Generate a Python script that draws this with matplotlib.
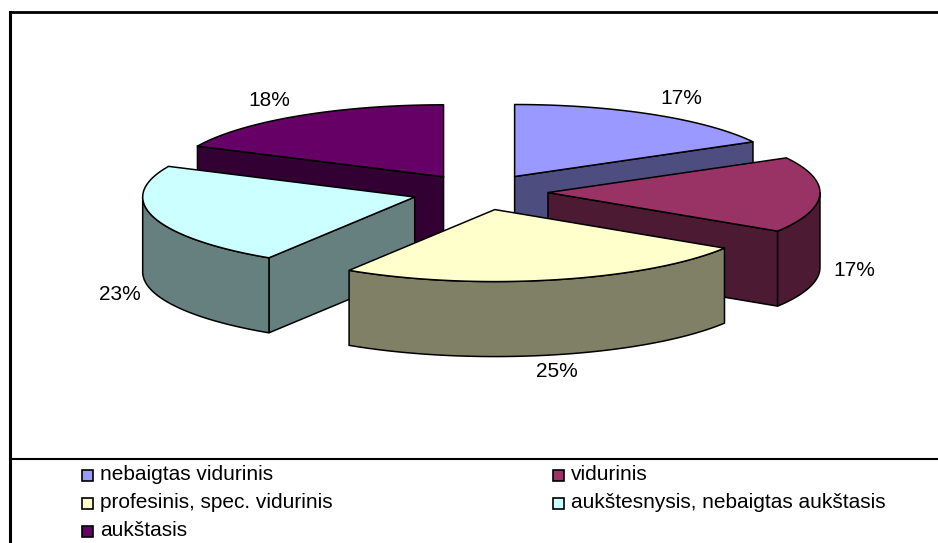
import numpy as np
import matplotlib
matplotlib.use('Agg')
import matplotlib.pyplot as plt
from matplotlib.patches import Polygon, Rectangle
from matplotlib.lines import Line2D

plt.rcParams['font.family'] = ['Liberation Sans', 'DejaVu Sans']

# ---- data ----
categories = ['nebaigtas vidurinis', 'vidurinis', 'profesinis, spec. vidurinis',
              'aukštesnysis, nebaigtas aukštasis', 'aukštasis']
values = [17, 17, 25, 23, 18]
pct_labels = ['17%', '17%', '25%', '23%', '18%']
top_colors = ['#9999FF', '#993366', '#FFFFCC', '#CCFFFF', '#660066']
side_colors = ['#4D4D80', '#4D1A33', '#808066', '#668080', '#330033']

# ---- geometry (pixel space) ----
W, H = 938, 543
CX, CY = 480, 192
RX, RY = 272, 72
DEPTH = 75
EXPL = 0.25
FS = 15

fig = plt.figure(figsize=(W / 100, H / 100), dpi=100)
ax = fig.add_axes([0, 0, 1, 1])
ax.set_xlim(0, W)
ax.set_ylim(H, 0)
ax.axis('off')

fracs = np.array(values, dtype=float) / np.sum(values)
bounds = np.concatenate([[0.0], np.cumsum(fracs)]) * 360.0


def rim(ox, oy, th):
    r = np.radians(th)
    return ox + RX * np.sin(r), oy - RY * np.cos(r)


slices = []
for i in range(len(values)):
    a, b = bounds[i], bounds[i + 1]
    m = np.radians((a + b) / 2)
    ox = CX + EXPL * RX * np.sin(m)
    oy = CY - EXPL * RY * np.cos(m)
    slices.append((oy, i, a, b, ox))

slices.sort()
z = 1
lw = 1.1
for oy, i, a, b, ox in slices:
    sc = side_colors[i]
    # radial faces
    if np.sin(np.radians(b)) > 1e-6:
        x, y = rim(ox, oy, b)
        ax.add_patch(Polygon([(ox, oy), (x, y), (x, y + DEPTH), (ox, oy + DEPTH)],
                             closed=True, fc=sc, ec='black', lw=lw, zorder=z))
    if np.sin(np.radians(a)) < -1e-6:
        x, y = rim(ox, oy, a)
        ax.add_patch(Polygon([(ox, oy), (x, y), (x, y + DEPTH), (ox, oy + DEPTH)],
                             closed=True, fc=sc, ec='black', lw=lw, zorder=z))
    # curved outer side
    lo, hi = max(a, 90), min(b, 270)
    if hi > lo:
        th = np.linspace(lo, hi, 80)
        xs, ys = rim(ox, oy, th)
        pts = list(zip(xs, ys)) + list(zip(xs[::-1], ys[::-1] + DEPTH))
        ax.add_patch(Polygon(pts, closed=True, fc=sc, ec='black', lw=lw, zorder=z))
    # top face
    th = np.linspace(a, b, 120)
    xs, ys = rim(ox, oy, th)
    pts = [(ox, oy)] + list(zip(xs, ys))
    ax.add_patch(Polygon(pts, closed=True, fc=top_colors[i], ec='black', lw=lw,
                         zorder=z + 0.5, joinstyle='round'))
    z += 1

    # percentage label
    m = np.radians((a + b) / 2)
    s, c = np.sin(m), np.cos(m)
    lx = ox + 1.05 * RX * s
    ly = oy - 1.1 * RY * c + (DEPTH if c < 0 else 0)
    ha = 'left' if s > 0.5 else ('right' if s < -0.5 else 'center')
    va = 'bottom' if c > 0.5 else ('top' if c < -0.5 else 'center')
    ax.text(lx, ly, pct_labels[i], ha=ha, va=va, fontsize=FS, color='black', zorder=50)

# ---- legend ----
col_x = [82, 553]
row_y0, row_dy = 475, 28
msz = 11
for i, name in enumerate(categories):
    r, cidx = divmod(i, 2)
    x0 = col_x[cidx]
    y0 = row_y0 + r * row_dy
    ax.add_patch(Rectangle((x0, y0 - msz / 2), msz, msz, fc=top_colors[i], ec='black',
                           lw=1.2, zorder=60, clip_on=False))
    ax.text(x0 + 18, y0, name, ha='left', va='center', fontsize=FS, color='black', zorder=60)

# ---- frame lines ----
for xs, ys, w in [([10, W], [12, 12], 2.0), ([10, 10], [12, H], 2.2), ([10, W], [459, 459], 1.5)]:
    ax.add_line(Line2D(xs, ys, color='black', lw=w, clip_on=False, zorder=70))

fig.savefig('out.png', dpi=100)
